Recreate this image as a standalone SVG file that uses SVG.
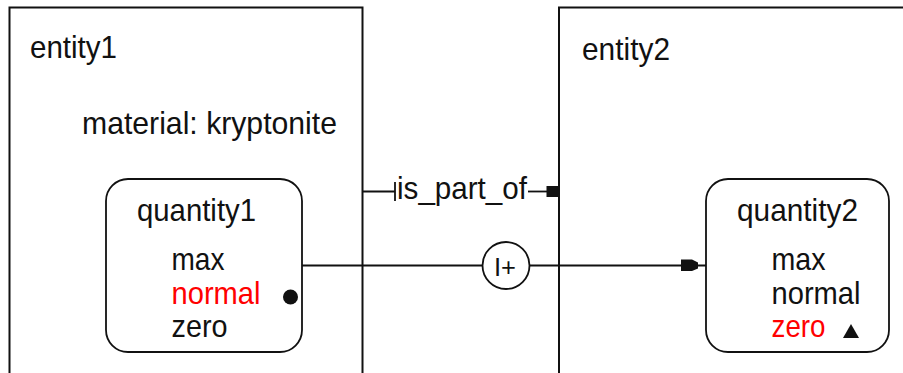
<svg xmlns="http://www.w3.org/2000/svg" width="903" height="373" viewBox="0 0 903 373">
  <style>
    text { font-family: "Liberation Sans", Arial, sans-serif; font-size: 32px; fill: #111; }
    .entity { fill: #fff; stroke: #111; stroke-width: 2; }
    .quantity { fill: #fff; stroke: #111; stroke-width: 1.8; }
    .active { fill: #f00; }
    .wire { fill: none; stroke: #111; stroke-width: 1.8; }
    .solid { fill: #111; stroke: none; }
  </style>
  <rect width="903" height="373" fill="#fff"/>

  <g id="entity1">
    <rect class="entity" x="9.5" y="7.5" width="353" height="380"/>
    <text x="30" y="58" textLength="87" lengthAdjust="spacingAndGlyphs">entity1</text>
    <text x="82" y="134" textLength="255" lengthAdjust="spacingAndGlyphs">material: kryptonite</text>
  </g>

  <g id="entity2">
    <rect class="entity" x="559" y="7.5" width="400" height="380"/>
    <text x="582" y="60" textLength="88" lengthAdjust="spacingAndGlyphs">entity2</text>
  </g>

  <g id="quantity1">
    <rect class="quantity" x="106" y="179" width="196" height="173" rx="22" ry="22"/>
    <text x="137" y="221" textLength="119" lengthAdjust="spacingAndGlyphs">quantity1</text>
    <text x="171.5" y="270" textLength="53" lengthAdjust="spacingAndGlyphs">max</text>
    <text class="active" x="171.5" y="303.5" textLength="89" lengthAdjust="spacingAndGlyphs">normal</text>
    <text x="171.5" y="337" textLength="56" lengthAdjust="spacingAndGlyphs">zero</text>
    <circle class="solid" cx="290.5" cy="297" r="7.5"/>
  </g>

  <g id="quantity2">
    <rect class="quantity" x="706" y="179" width="183" height="173" rx="22" ry="22"/>
    <text x="737" y="221" textLength="121" lengthAdjust="spacingAndGlyphs">quantity2</text>
    <text x="771.5" y="270" textLength="54" lengthAdjust="spacingAndGlyphs">max</text>
    <text x="771.5" y="303.5" textLength="89" lengthAdjust="spacingAndGlyphs">normal</text>
    <text class="active" x="771.5" y="337" textLength="54" lengthAdjust="spacingAndGlyphs">zero</text>
    <polygon class="solid" points="843,338 859,338 851,324"/>
  </g>

  <g id="connectors">
    <!-- is_part_of: entity1 -> entity2 -->
    <g id="is_part_of">
      <line class="wire" x1="362" y1="191.5" x2="395" y2="191.5"/>
      <line class="wire" x1="395" y1="182" x2="395" y2="201"/>
      <text x="397" y="199" textLength="130" lengthAdjust="spacingAndGlyphs">is_part_of</text>
      <line class="wire" x1="528" y1="191.5" x2="548" y2="191.5"/>
      <rect class="solid" x="546.5" y="186" width="12" height="11"/>
    </g>
    <!-- positive influence: quantity1 -> quantity2 -->
    <g id="influence">
      <line class="wire" x1="302" y1="265.5" x2="482" y2="265.5"/>
      <circle class="wire" cx="506" cy="265.5" r="23.5"/>
      <text x="494" y="275.5" style="font-size:26px" textLength="22" lengthAdjust="spacingAndGlyphs">I+</text>
      <line class="wire" x1="529.5" y1="265.5" x2="706" y2="265.5"/>
      <path class="solid" d="M681,259.5 H692 L698,262.5 V268.5 L692,271 H681 Z"/>
    </g>
  </g>
</svg>
